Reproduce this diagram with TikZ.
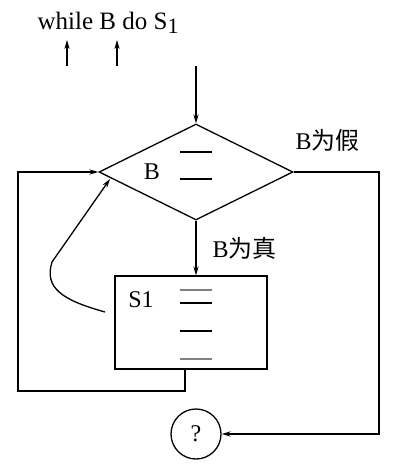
\documentclass[tikz,border=0pt]{standalone}
\usepackage{fontspec}
\setmainfont{Liberation Serif}
\newfontfamily\cjk{Noto Sans CJK SC}
\usetikzlibrary{arrows.meta,shapes.geometric}
\tikzset{lbl/.style={font=\fontsize{12}{14}\selectfont,inner sep=0pt}}

\begin{document}
\begin{tikzpicture}[x=0.5pt,y=-0.5pt,line width=0.65pt,
    >={Stealth[length=4.5pt,width=2.6pt]}]
            \useasboundingbox (0,0) rectangle (402,470);
            % statement and its markers
            \node[lbl,anchor=base west,font=\fontsize{12.5}{14}\selectfont] (W) at (37,30)
                {while B do S\raisebox{-2pt}{\fontsize{11}{12}\selectfont 1}};
            \coordinate (p1) at (67,66);
            \coordinate (p2) at (117,66);
            \draw[->] (p1) -- ++(0,-26);
            \draw[->] (p2) -- ++(0,-26);

            % flow chart
            \node[diamond,draw,minimum width=97pt,minimum height=48pt,inner sep=0pt] (B) at (196,172) {};
            \node[rectangle,draw,minimum width=76pt,minimum height=46.5pt,inner sep=0pt] (S) at (191,322.5) {};
            \node[circle,draw,minimum size=25pt,inner sep=0pt,lbl] (Q) at (196,434) {?};
            \node[lbl] (Bt) at (152,172) {B};
            \node[lbl] (St) at (141,300) {S1};
            \node[lbl,anchor=west] (F) at (295,140) {B{\cjk 为假}};
            \node[lbl,anchor=west] (T) at (212,248) {B{\cjk 为真}};

            \draw (180,152) -- (212,152);
            \draw (180,179) -- (212,179);
            \draw[gray] (180,290) -- (212,290);
            \draw (180,303) -- (212,303);
            \draw (180,331) -- (212,331);
            \draw[gray] (180,359) -- (212,359);

            \coordinate (in) at (196,66);
            \coordinate (out) at (185,369);
            \coordinate (c) at (105,312);
            \draw[->] (in) -- (B.north);
            \draw[->] (B.south) -- (B.south |- S.north);
            \draw[->] (B.east) -- (379,172) |- (Q.east);
            \draw[->] (out) |- (18,391) |- (B.west);
            \draw[->] (c) .. controls (62,300) and (44,288) .. (52,262) -- (110,179);
        \end{tikzpicture}
\end{document}
